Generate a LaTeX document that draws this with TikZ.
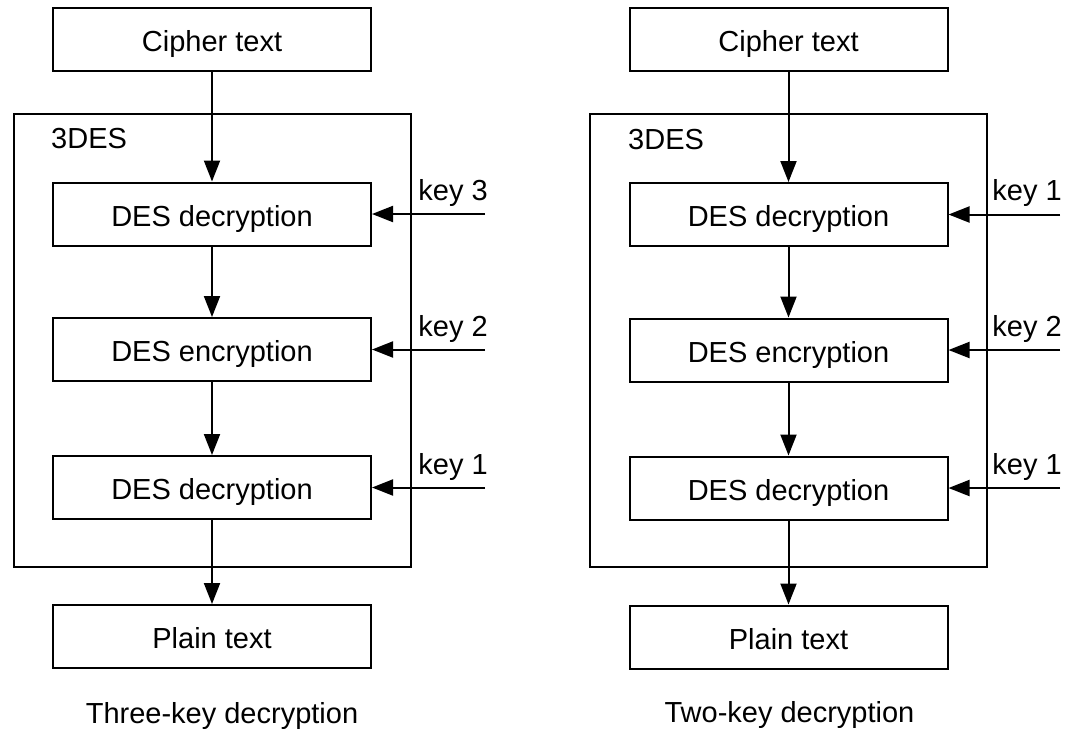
\documentclass[tikz,border=0pt]{standalone}
\usepackage{fontspec}
\setmainfont{Liberation Sans}
\usetikzlibrary{arrows.meta}
\begin{document}
\begin{tikzpicture}[x=1pt,y=-1pt,
  every node/.style={font=\fontsize{29}{34}\selectfont},
  blk/.style={draw,line width=2pt,minimum width=318pt,minimum height=63pt,inner sep=0pt,text height=24pt,text depth=0pt},
  container/.style={draw,line width=2pt,minimum width=397pt,minimum height=453pt,inner sep=0pt},
  flow/.style={line width=2pt,-{Triangle[length=21pt,width=16pt]}},
  lbl/.style={inner sep=0pt}]
\useasboundingbox (0,0) rectangle (1074,740);
% ---------- left: three-key ----------
\node[container] (Lbox) at (212.5,340.5) {};
\node[lbl,anchor=base west] (Ltitle) at (51,148) {3DES};
\node[blk] (Lc) at (212,39.5) {Cipher text};
\node[blk] (Ld1) at (212,214) {DES decryption};
\node[blk] (Le) at (212,349.5) {DES encryption};
\node[blk] (Ld2) at (212,487.5) {DES decryption};
\node[blk] (Lp) at (212,636.5) {Plain text};
\node[lbl,anchor=base] (Lcap) at (222,723) {Three-key decryption};
\draw[flow] (Lc) -- (Ld1);
\draw[flow] (Ld1) -- (Le);
\draw[flow] (Le) -- (Ld2);
\draw[flow] (Ld2) -- (Lp);
\coordinate (Lk1) at (485,214);
\coordinate (Lk2) at (485,349.5);
\coordinate (Lk3) at (485,487.5);
\draw[flow] (Lk1) -- (Ld1.east);
\draw[flow] (Lk2) -- (Le.east);
\draw[flow] (Lk3) -- (Ld2.east);
\node[lbl,anchor=base east] (Lkl1) at (488,200) {key 3};
\node[lbl,anchor=base east] (Lkl2) at (488,336) {key 2};
\node[lbl,anchor=base east] (Lkl3) at (488,474) {key 1};
% ---------- right: two-key ----------
\node[container] (Rbox) at (788.5,340.5) {};
\node[lbl,anchor=base west] (Rtitle) at (628,149) {3DES};
\node[blk] (Rc) at (788.5,39.5) {Cipher text};
\node[blk] (Rd1) at (788.5,214.5) {DES decryption};
\node[blk] (Re) at (788.5,350) {DES encryption};
\node[blk] (Rd2) at (788.5,488) {DES decryption};
\node[blk] (Rp) at (788.5,637) {Plain text};
\node[lbl,anchor=base] (Rcap) at (789.5,722) {Two-key decryption};
\draw[flow] (Rc) -- (Rd1);
\draw[flow] (Rd1) -- (Re);
\draw[flow] (Re) -- (Rd2);
\draw[flow] (Rd2) -- (Rp);
\coordinate (Rk1) at (1060,214.5);
\coordinate (Rk2) at (1060,350);
\coordinate (Rk3) at (1060,488);
\draw[flow] (Rk1) -- (Rd1.east);
\draw[flow] (Rk2) -- (Re.east);
\draw[flow] (Rk3) -- (Rd2.east);
\node[lbl,anchor=base east] (Rkl1) at (1062,200) {key 1};
\node[lbl,anchor=base east] (Rkl2) at (1062,336) {key 2};
\node[lbl,anchor=base east] (Rkl3) at (1062,474) {key 1};
\end{tikzpicture}
\end{document}
